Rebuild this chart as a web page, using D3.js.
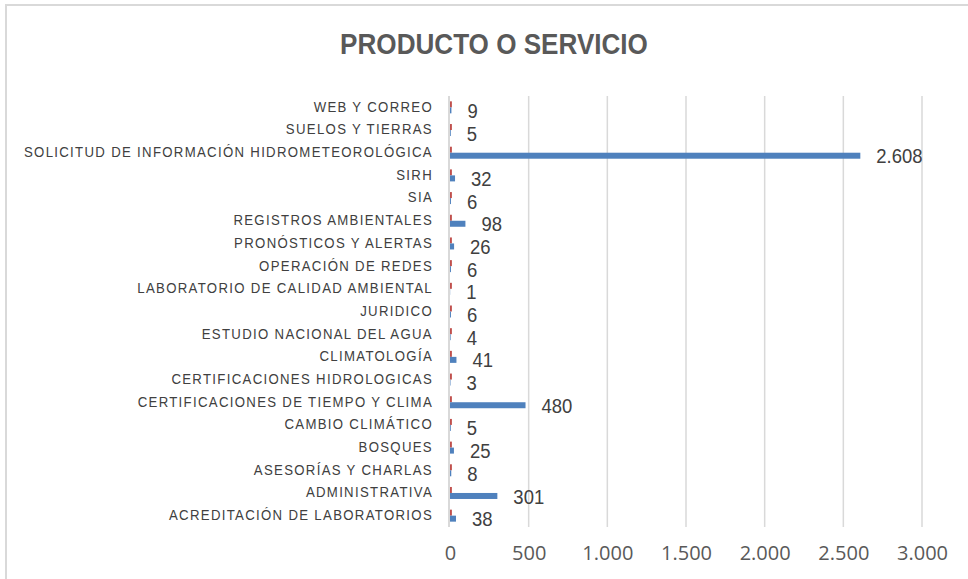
<html>
<head>
<meta charset="utf-8">
<title>Producto o servicio</title>
<style>
  html, body { margin: 0; background: #fff; }
  svg { display: block; }
  .cat { font-family: "Liberation Sans", Arial, sans-serif; font-size: 15px; fill: #404040; letter-spacing: 1.5px; }
  .val { font-family: "Liberation Sans", Arial, sans-serif; font-size: 21px; fill: #404040; }
  .tick text { font-family: "Open Sans", sans-serif; font-size: 20px; fill: #595959; }
  .title { font-family: "Liberation Sans", Arial, sans-serif; font-weight: bold; font-size: 29px; fill: #595959; }
</style>
</head>
<body>
<div id="chart"></div>
<script src="https://cdn.jsdelivr.net/npm/d3@7"></script>
<script>
// data order as in the sheet (first one drawn at the bottom)
var categories = [
  "ACREDITACIÓN DE LABORATORIOS",
  "ADMINISTRATIVA",
  "ASESORÍAS Y CHARLAS",
  "BOSQUES",
  "CAMBIO CLIMÁTICO",
  "CERTIFICACIONES DE TIEMPO Y CLIMA",
  "CERTIFICACIONES HIDROLOGICAS",
  "CLIMATOLOGÍA",
  "ESTUDIO NACIONAL DEL AGUA",
  "JURIDICO",
  "LABORATORIO DE CALIDAD AMBIENTAL",
  "OPERACIÓN DE REDES",
  "PRONÓSTICOS Y ALERTAS",
  "REGISTROS AMBIENTALES",
  "SIA",
  "SIRH",
  "SOLICITUD DE INFORMACIÓN HIDROMETEOROLÓGICA",
  "SUELOS Y TIERRAS",
  "WEB Y CORREO"
]
var totals = [38, 301, 8, 25, 5, 480, 3, 41, 4, 6, 1, 6, 26, 98, 6, 32, 2608, 5, 9]
// second (red) series, tiny bars next to the axis
var other = [12, 12, 12, 12, 12, 12, 12, 12, 12, 12, 12, 12, 12, 12, 12, 12, 12, 12, 12]
var ticks = [0, 500, 1000, 1500, 2000, 2500, 3000]

var width = 968, height = 579
var fmt = function(d) { return d3.format(",")(d).replace(/,/g, ".") }

var svg = d3.select("#chart").append("svg")
  .attr("width", width)
  .attr("height", height)

// chart frame
svg.append("rect")
  .attr("x", 6).attr("y", 5)
  .attr("width", 980).attr("height", 600)
  .attr("fill", "none")
  .attr("stroke", "#d9d9d9")
  .attr("stroke-width", 2)

// narrow fonts are not around, so squeeze the text sideways
svg.append("text")
  .attr("class", "title")
  .attr("transform", "translate(494,54) scale(0.9,1)")
  .attr("text-anchor", "middle")
  .text("PRODUCTO O SERVICIO")

var x = d3.scaleLinear().domain([0, 3000]).range([450, 922])
var y = d3.scaleBand().domain(categories.slice().reverse()).range([96, 527])
var barH = 6

// gridlines
svg.append("g").selectAll("line")
  .data(ticks.slice(1))
  .enter().append("line")
  .attr("x1", function(d) { return x(d) }).attr("x2", function(d) { return x(d) })
  .attr("y1", 96).attr("y2", 527)
  .attr("stroke", "#d9d9d9").attr("stroke-width", 1.5)

// bars
var rows = svg.append("g").selectAll("g")
  .data(categories)
  .enter().append("g")
  .attr("transform", function(d) { return "translate(0," + (y(d) + y.bandwidth() / 2) + ")" })

rows.append("rect")
  .attr("x", x(0))
  .attr("y", -barH)
  .attr("width", function(d, i) { return x(other[i]) - x(0) })
  .attr("height", barH)
  .attr("fill", "#c0504d")

rows.append("rect")
  .attr("x", x(0))
  .attr("y", 0)
  .attr("width", function(d, i) { return x(totals[i]) - x(0) })
  .attr("height", barH)
  .attr("fill", "#4f81bd")

rows.append("text")
  .attr("class", "val")
  .attr("transform", function(d, i) { return "translate(" + (x(totals[i]) + 16) + "," + (barH / 2) + ") scale(0.88,1)" })
  .attr("dy", "0.36em")
  .text(function(d, i) { return fmt(totals[i]) })

rows.append("text")
  .attr("class", "cat")
  .attr("transform", "translate(433,-1) scale(0.88,1)")
  .attr("dy", "0.36em")
  .attr("text-anchor", "end")
  .text(function(d) { return d })

// value axis line at zero
svg.append("line")
  .attr("x1", x(0) - 1).attr("x2", x(0) - 1)
  .attr("y1", 96).attr("y2", 527)
  .attr("stroke", "#d9d9d9").attr("stroke-width", 2)

var xAxis = d3.axisBottom(x)
  .tickValues(ticks)
  .tickSize(0)
  .tickPadding(0)
  .tickFormat(fmt)

var gx = svg.append("g")
  .attr("transform", "translate(0,542)")
  .call(xAxis)
gx.select(".domain").remove()
gx.selectAll("text").attr("dy", "0.9em").attr("fill", "#595959")
</script>
</body>
</html>
